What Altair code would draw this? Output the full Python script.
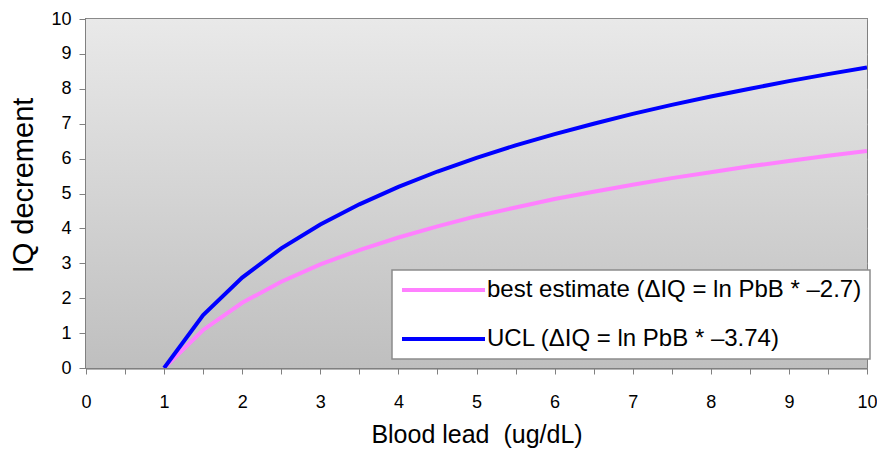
import altair as alt
import pandas as pd

# values
pbb = [1, 1.5, 2, 2.5, 3, 3.5, 4, 4.5, 5, 5.5, 6, 6.5, 7, 7.5, 8, 8.5, 9, 9.5, 10]
best = [0, 1.09, 1.87, 2.47, 2.97, 3.38, 3.74, 4.06, 4.35, 4.60, 4.84, 5.05, 5.25, 5.44, 5.61, 5.78, 5.93, 6.08, 6.22]
ucl = [0, 1.52, 2.59, 3.43, 4.11, 4.69, 5.19, 5.63, 6.02, 6.38, 6.70, 7.00, 7.28, 7.54, 7.78, 8.00, 8.22, 8.42, 8.61]
series_names = ["best estimate (\u0394IQ = ln PbB * \u20132.7)", "UCL (\u0394IQ = ln PbB * \u20133.74)"]
series_colors = ["#ff80ff", "#0000ff"]
x_ticks = [i / 2 for i in range(21)]
y_ticks = list(range(11))

rows = []
for name, vals in zip(series_names, [best, ucl]):
    for x, v in zip(pbb, vals):
        rows.append({"PbB": x, "IQ": v, "series": name})
df = pd.DataFrame(rows)

W, H = 781, 349
FONT = "Liberation Sans"

bg = alt.Chart(alt.Data(values=[{}])).mark_rect(
    color=alt.Gradient(
        gradient="linear",
        stops=[alt.GradientStop(color="#e9e9e9", offset=0),
               alt.GradientStop(color="#bfbfbf", offset=1)],
        x1=0, x2=0, y1=0, y2=1,
    )
).encode(x=alt.value(0), x2=alt.value(W), y=alt.value(0), y2=alt.value(H))

lines = alt.Chart(df).mark_line(strokeWidth=4, clip=True).encode(
    x=alt.X("PbB:Q", scale=alt.Scale(domain=[0, 10], nice=False),
            axis=alt.Axis(values=x_ticks, title="Blood lead\u00a0\u00a0(ug/dL)",
                          labelExpr="datum.value % 1 == 0 ? format(datum.value, 'd') : ''",
                          labelFlush=False,
                          grid=False, tickSize=6, tickColor="#808080",
                          domainColor="#808080", domainWidth=2,
                          labelFontSize=18, labelPadding=19,
                          titleFontSize=25, titlePadding=11)),
    y=alt.Y("IQ:Q", scale=alt.Scale(domain=[0, 10], nice=False),
            axis=alt.Axis(values=y_ticks, title="IQ decrement",
                          format="d", labelFlush=False,
                          grid=True, gridColor="#a6a6a6", gridWidth=1.5,
                          tickSize=7, tickColor="#808080",
                          domainColor="#808080", domainWidth=2,
                          labelFontSize=18, labelPadding=8,
                          titleFontSize=29, titlePadding=12, titleY=166)),
    color=alt.Color("series:N",
                    scale=alt.Scale(domain=series_names, range=series_colors),
                    legend=alt.Legend(
                        title=None, orient="none", legendX=306, legendY=251,
                        fillColor="white", strokeColor="#8c8c8c",
                        symbolType="M-1,0L7.3,0", symbolSize=400, symbolStrokeWidth=4,
                        labelFontSize=24, labelFont=FONT, labelColor="black",
                        labelOffset=63, padding=8, rowPadding=25,
                        labelLimit=600)),
    order=alt.Order("PbB:Q"),
)

chart = alt.layer(bg, lines).properties(
    width=W, height=H,
    padding={"left": 78, "top": 11, "right": 10, "bottom": 80},
    autosize=alt.AutoSizeParams(type="none"),
).configure_view(
    stroke="#808080", strokeWidth=2
).configure_axis(
    labelFont=FONT, titleFont=FONT,
    labelColor="black", titleColor="black", titleFontWeight="normal",
).configure_legend(
    strokeWidth=1.5
)

chart.save("out.html", embed_options={"renderer": "svg", "actions": False})
